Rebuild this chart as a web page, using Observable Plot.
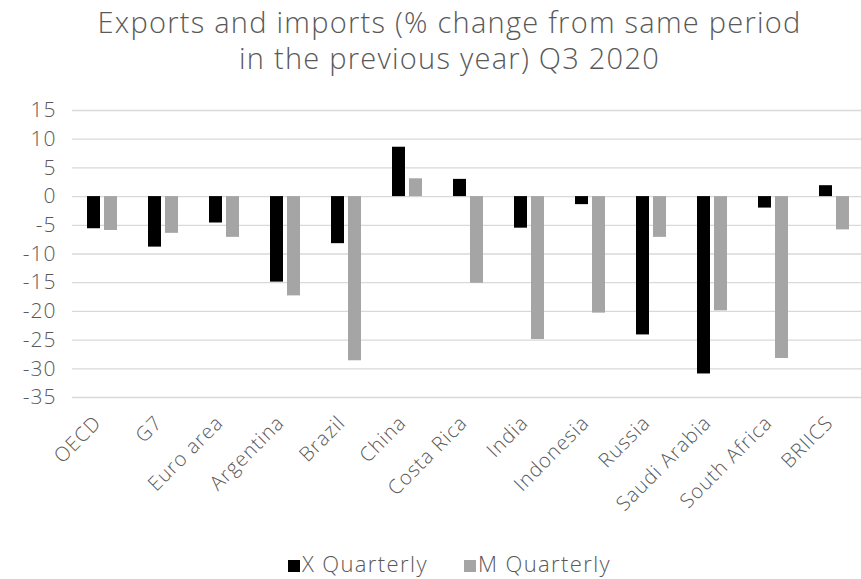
<!DOCTYPE html>
<html>
<head>
<meta charset="utf-8">
<script src="https://cdn.jsdelivr.net/npm/d3@7"></script>
<script src="https://cdn.jsdelivr.net/npm/@observablehq/plot@0.6"></script>
<style>
  body { margin: 0; background: #fff; font-family: "Open Sans", sans-serif; font-weight: 300; color: #595959; }
  #wrap { width: 861px; }
  #title { height: 92px; text-align: center; font-size: 29px; line-height: 36px; padding-top: 4px; padding-left: 38px; letter-spacing: 1.25px; box-sizing: border-box; color: #595959; }
  #legend { text-align: center; font-size: 22px; letter-spacing: 1.4px; margin-top: 16px; color: #595959; padding-left: 74px; }
  .sw { display: inline-block; width: 12px; height: 12px; margin-right: 2px; vertical-align: 0px; }
  .item { margin-right: 36px; }
</style>
</head>
<body>
<div id="wrap">
  <div id="title">Exports and imports (% change from same period<br>in the previous year) Q3 2020</div>
  <div id="chart"></div>
  <div id="legend"></div>
</div>
<script>
const countries = ["OECD", "G7", "Euro area", "Argentina", "Brazil", "China", "Costa Rica", "India", "Indonesia", "Russia", "Saudi Arabia", "South Africa", "BRIICS"];
const seriesNames = ["X Quarterly", "M Quarterly"];
const xQuarterly = [-5.6, -8.8, -4.6, -14.9, -8.2, 8.6, 3.0, -5.5, -1.4, -24.1, -30.9, -2.0, 1.9];
const mQuarterly = [-5.9, -6.4, -7.1, -17.3, -28.6, 3.1, -15.1, -24.9, -20.3, -7.1, -19.9, -28.2, -5.8];
const yTicks = [15, 10, 5, 0, -5, -10, -15, -20, -25, -30, -35];
const colors = ["#000000", "#A5A5A5"];

const data = [];
countries.forEach((c, i) => {
  data.push({country: c, series: seriesNames[0], value: xQuarterly[i]});
  data.push({country: c, series: seriesNames[1], value: mQuarterly[i]});
});

const chart = Plot.plot({
  width: 861,
  height: 440,
  marginTop: 18,
  marginBottom: 135,
  marginLeft: 66,
  marginRight: 0,
  style: {fontFamily: "'Open Sans', sans-serif", fontWeight: 300, color: "#595959", background: "#fff", letterSpacing: "1px"},
  fx: {domain: countries, padding: 0, label: null, axis: null, range: [66, 871]},
  x: {domain: seriesNames, paddingInner: 0.222, paddingOuter: 0.83, axis: null},
  y: {domain: [-35, 15], label: null},
  color: {domain: seriesNames, range: colors},
  marks: [
    Plot.gridY(yTicks, {stroke: "#D9D9D9", strokeOpacity: 1, strokeWidth: 1.3}),
    Plot.barY(data, {fx: "country", x: "series", y: "value", fill: "series"}),
    Plot.axisY(yTicks, {tickSize: 0, tickPadding: 16, fontSize: 21, fill: "#595959", label: null, tickFormat: d => d}),
    Plot.axisFx({anchor: "bottom", tickSize: 0, tickRotate: -45, tickPadding: 22, fontSize: 20, fill: "#595959", label: null, dx: -5})
  ]
});
document.getElementById("chart").appendChild(chart);

const legend = document.getElementById("legend");
seriesNames.forEach((s, i) => {
  const span = document.createElement("span");
  span.className = "item";
  span.innerHTML = `<span class="sw" style="background:${colors[i]}"></span>${s}`;
  legend.appendChild(span);
});
</script>
</body>
</html>
